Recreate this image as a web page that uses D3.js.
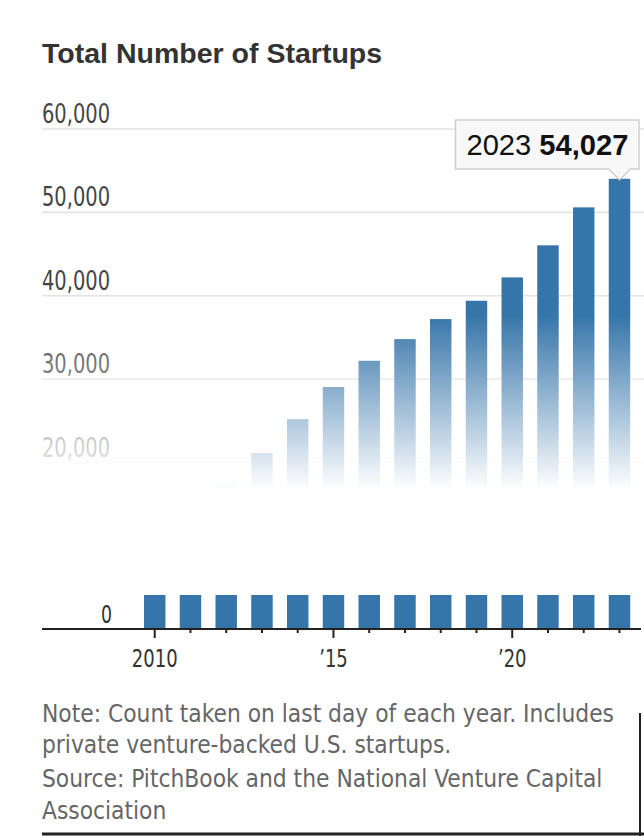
<!DOCTYPE html>
<html>
<head>
<meta charset="utf-8">
<script src="https://cdn.jsdelivr.net/npm/d3@7"></script>
<style>
  html, body { margin: 0; padding: 0; background: #fff; }
  svg { display: block; }
  .narrow { font-family: "Liberation Sans Narrow", "DejaVu Sans Condensed", "Roboto", sans-serif; }
  .wide { font-family: "Liberation Sans", "Noto Sans", "DejaVu Sans", sans-serif; }
</style>
</head>
<body>
<svg id="chart" width="644" height="836"></svg>
<script>
// ---- data ----
const years = [2010, 2011, 2012, 2013, 2014, 2015, 2016, 2017, 2018, 2019, 2020, 2021, 2022, 2023];
const startups = [14000, 15800, 17500, 21150, 25200, 29050, 32200, 34800, 37200, 39400, 42200, 46050, 50600, 54027];
const upperTicks = [20000, 30000, 40000, 50000, 60000];
const lowerTicks = [0];
const xTickLabels = {2010: "2010", 2015: "\u201915", 2020: "\u201920"};
const title = "Total Number of Startups";
const noteLines = [
  "Note: Count taken on last day of each year. Includes",
  "private venture-backed U.S. startups.",
  "Source: PitchBook and the National Venture Capital",
  "Association"
];
const highlightYear = 2023;

const svg = d3.select("#chart");
const W = 644;
const left = 42;

const x = d3.scaleBand().domain(years).range([136.85, 637.35]).paddingInner(0.4).paddingOuter(0.2);
const yUp = d3.scaleLinear().domain([20000, 60000]).range([462.5, 129]);
const yLow = d3.scaleLinear().domain([0, 4000]).range([628, 595]);
const lowMax = 4000;

function fitText(sel, target) {
  let fs = parseFloat(sel.attr("font-size"));
  for (let i = 0; i < 3; i++) {
    const w = sel.node().getComputedTextLength();
    if (w > 0) { fs = fs * target / w; sel.attr("font-size", fs); }
  }
}
// horizontally condense text by factor k, keeping height
function condense(sel, k) {
  sel.each(function() {
    const w = this.getComputedTextLength();
    if (w > 0) d3.select(this).attr("textLength", w * k).attr("lengthAdjust", "spacingAndGlyphs");
  });
}

// title
const t = svg.append("text").attr("class", "wide").attr("x", left).attr("y", 63)
  .attr("font-size", 26).attr("font-weight", "bold").attr("fill", "#333").text(title);
fitText(t, 340);

// gridlines + labels (upper)
const g = svg.append("g");
g.selectAll("line.grid").data(upperTicks).join("line")
  .attr("x1", left).attr("x2", W).attr("y1", d => yUp(d)).attr("y2", d => yUp(d))
  .attr("stroke", "#e3e3e3").attr("stroke-width", 1.6);
const ylabs = g.selectAll("text.ylab").data(upperTicks).join("text")
  .attr("class", "narrow").attr("x", left).attr("y", d => yUp(d) - 6)
  .attr("font-size", 27).attr("fill", "#444").text(d => d3.format(",")(d));
const kLab = 68 / ylabs.nodes()[4].getComputedTextLength();
condense(ylabs, kLab);

// upper bars
const upper = svg.append("g");
upper.selectAll("rect").data(years).join("rect")
  .attr("x", d => x(d)).attr("width", x.bandwidth())
  .attr("y", (d, i) => yUp(startups[i]))
  .attr("height", (d, i) => yUp(12000) - yUp(startups[i]))
  .attr("fill", "#3675a9");

// fade overlay
const defs = svg.append("defs");
const grad = defs.append("linearGradient").attr("id", "fade")
  .attr("gradientUnits", "userSpaceOnUse").attr("x1", 0).attr("x2", 0).attr("y1", 315).attr("y2", 490);
grad.append("stop").attr("offset", 0).attr("stop-color", "#fff").attr("stop-opacity", 0);
grad.append("stop").attr("offset", 1).attr("stop-color", "#fff").attr("stop-opacity", 1);
svg.append("rect").attr("x", 0).attr("y", 315).attr("width", W).attr("height", 175).attr("fill", "url(#fade)");
svg.append("rect").attr("x", 0).attr("y", 489.5).attr("width", W).attr("height", 100).attr("fill", "#fff");

// lower bars (broken axis stub)
svg.append("g").selectAll("rect").data(years).join("rect")
  .attr("x", d => x(d)).attr("width", x.bandwidth())
  .attr("y", (d, i) => yLow(Math.min(startups[i], lowMax)))
  .attr("height", (d, i) => yLow(0) - yLow(Math.min(startups[i], lowMax)))
  .attr("fill", "#3675a9");

const zero = svg.selectAll("text.zero").data(lowerTicks).join("text")
  .attr("class", "narrow").attr("x", 112).attr("y", d => yLow(d) - 5.5)
  .attr("text-anchor", "end").attr("font-size", 24).attr("fill", "#333").text(d => d);
condense(zero, kLab);

// x axis
const axis = d3.axisBottom(x).tickSize(4).tickFormat(d => xTickLabels[d] || "");
const ax = svg.append("g").attr("transform", "translate(0,629)").call(axis);
ax.select(".domain").remove();
ax.attr("font-family", null).attr("font-size", null);
ax.selectAll(".tick line").attr("stroke", "#222").attr("stroke-width", 2)
  .attr("y2", d => xTickLabels[d] ? 9 : 4);
const xt = ax.selectAll(".tick text").attr("class", "narrow").attr("font-size", 25).attr("fill", "#333")
  .attr("y", 38).attr("dy", 0);
condense(xt, kLab);
svg.append("line").attr("x1", left).attr("x2", 641).attr("y1", 629).attr("y2", 629)
  .attr("stroke", "#222").attr("stroke-width", 2.2);

// tooltip
const hi = years.indexOf(highlightYear);
const cx = x(highlightYear) + x.bandwidth() / 2;
const apexY = yUp(startups[hi]) + 1;
const bx0 = cx - 164, bx1 = cx + 19.5, by0 = 120, by1 = 169;
const tipPath = `M${bx0},${by0} H${bx1} V${by1} H${cx + 11} L${cx},${apexY} L${cx - 11},${by1} H${bx0} Z`;
svg.append("path").attr("d", tipPath).attr("fill", "#f8f8f8").attr("stroke", "#cfcfcf").attr("stroke-width", 1.5);
const tt = svg.append("text").attr("class", "wide").attr("x", bx0 + 11).attr("y", 155)
  .attr("font-size", 27).attr("fill", "#111");
tt.append("tspan").text(highlightYear + " ");
tt.append("tspan").attr("font-weight", "bold").text(d3.format(",")(startups[hi]));
fitText(tt, 162);

// notes
const noteY = [722, 753, 787, 819];
const notes = svg.append("g").selectAll("text").data(noteLines).join("text")
  .attr("class", "narrow").attr("x", left).attr("y", (d, i) => noteY[i])
  .attr("font-size", 24).attr("fill", "#666").text(d => d);
const kNote = 572 / notes.nodes()[0].getComputedTextLength();
condense(notes, kNote);

// bottom border lines
svg.append("line").attr("x1", left).attr("x2", W).attr("y1", 834).attr("y2", 834).attr("stroke", "#222").attr("stroke-width", 3);
svg.append("line").attr("x1", 640).attr("x2", 640).attr("y1", 713).attr("y2", 836).attr("stroke", "#222").attr("stroke-width", 2);
</script>
</body>
</html>
